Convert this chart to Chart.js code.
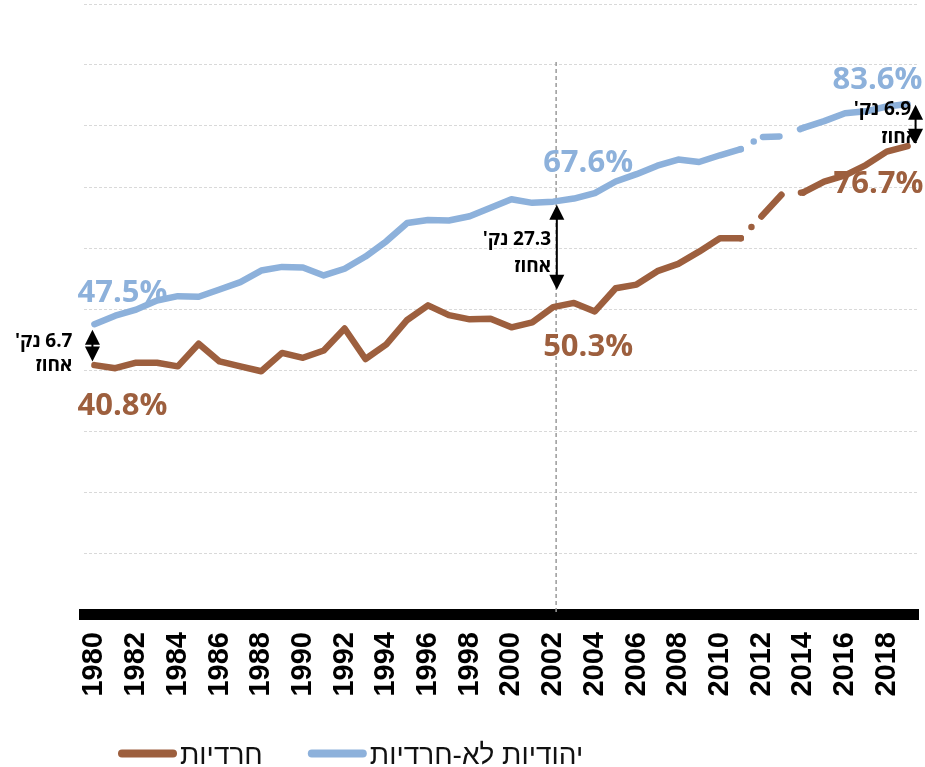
<!DOCTYPE html>
<html>
<head>
<meta charset="utf-8">
<script src="https://cdn.jsdelivr.net/npm/chart.js@4.4.1/dist/chart.umd.min.js"></script>
<style>
  html, body { margin: 0; padding: 0; background: #fff; }
  #wrap { width: 925px; height: 767px; position: relative; }
</style>
</head>
<body>
<div id="wrap"><canvas id="chart"></canvas></div>
<script>
// data (share of women employed, %)
const years = ['1980','1981','1982','1983','1984','1985','1986','1987','1988','1989',
               '1990','1991','1992','1993','1994','1995','1996','1997','1998','1999',
               '2000','2001','2002','2003','2004','2005','2006','2007','2008','2009',
               '2010','2011','2012','2013','2014','2015','2016','2017','2018','2019']
const haredi = [40.8, 40.3, 41.2, 41.2, 40.6, 44.3, 41.4, 40.6, 39.8, 42.8,
                42.0, 43.2, 46.8, 41.8, 44.2, 48.2, 50.6, 49.0, 48.3, 48.4,
                47.0, 47.8, 50.3, 51.0, 49.6, 53.4, 54.0, 56.2, 57.4, 59.4,
                61.6, 61.6, 65.2, 68.9, 69.1, 70.9, 71.9, 73.6, 75.8, 76.7]
const nonHaredi = [47.5, 48.9, 49.9, 51.4, 52.1, 52.0, 53.2, 54.4, 56.3, 56.9,
                   56.8, 55.5, 56.6, 58.6, 61.1, 64.1, 64.6, 64.5, 65.2, 66.6,
                   68.0, 67.4, 67.6, 68.1, 69.0, 70.9, 72.1, 73.5, 74.5, 74.1,
                   75.2, 76.2, 78.2, 78.3, 79.7, 80.8, 82.1, 82.4, 83.2, 83.6]
const seriesNames = ['חרדיות', 'יהודיות לא-חרדיות']
const seriesColors = ['#9d5f3e', '#8db1db']
const yTicks = [0, 10, 20, 30, 40, 50, 60, 70, 80, 90, 100]
const brokenFrom = '2011', brokenTo = '2014'
// gap notes as printed on the chart
const noteYears = ['1980', '2002', '2019']
const noteGaps = ['6.7', '27.3', '6.9']

const BOLD = '"Open Sans", "Liberation Sans", sans-serif'
const PLAIN = '"Liberation Sans", "DejaVu Sans", sans-serif'

const i0 = years.indexOf(brokenFrom), i1 = years.indexOf(brokenTo)
function broken(dash){
  return ctx => (ctx.p0DataIndex >= i0 && ctx.p1DataIndex <= i1) ? dash : undefined
}

// big % labels next to the lines
const pctLabels = [
  {year: '1980', s: 1, dx: -17, dy: -22},
  {year: '1980', s: 0, dx: -17, dy: 50},
  {year: '2002', s: 1, dx: -10, dy: -30},
  {year: '2002', s: 0, dx: -10, dy: 49},
  {year: '2019', s: 1, dx: -75, dy: -15},
  {year: '2019', s: 0, dx: -74, dy: 47}
]
// arrow / text offsets for each gap note
const noteLayout = [
  {ax: -2, top: 5.5, bot: 3.7, tx1: -22, tx2: -22, ty1: 22.5, ty2: 47},
  {ax: 3.7, top: 3, bot: 17.5, tx1: -2, tx2: -2, ty1: 43, ty2: 70},
  {ax: 8, top: 0.7, bot: 2.4, tx1: 3.5, tx2: 10.5, ty1: 11, ty2: 38.5}
]

function arrow(ctx, x, yTop, yBot){
  const h = Math.min(15, (yBot - yTop) / 2 - 0.5), w = 7.5
  ctx.lineWidth = 2
  ctx.beginPath(); ctx.moveTo(x, yTop + h - 1); ctx.lineTo(x, yBot - h + 1); ctx.stroke()
  ctx.beginPath(); ctx.moveTo(x, yTop); ctx.lineTo(x - w, yTop + h); ctx.lineTo(x + w, yTop + h); ctx.closePath(); ctx.fill()
  ctx.beginPath(); ctx.moveTo(x, yBot); ctx.lineTo(x - w, yBot - h); ctx.lineTo(x + w, yBot - h); ctx.closePath(); ctx.fill()
}

const overlay = {
  id: 'overlay',
  beforeDatasetsDraw(chart){
    const {ctx, scales: {x, y}} = chart
    const px = x.getPixelForValue(years.indexOf('2002')) + 3
    ctx.save()
    ctx.strokeStyle = '#9a9a9a'
    ctx.lineWidth = 1.5
    ctx.setLineDash([4, 3])
    ctx.beginPath(); ctx.moveTo(px, y.getPixelForValue(90.5)); ctx.lineTo(px, y.getPixelForValue(0)); ctx.stroke()
    ctx.restore()
  },
  afterDraw(chart){
    const {ctx, scales: {x, y}} = chart
    const data = chart.data.datasets
    ctx.save()
    // percentage labels
    ctx.font = 'bold 31px ' + BOLD
    ctx.textAlign = 'left'
    ctx.textBaseline = 'alphabetic'
    pctLabels.forEach(l => {
      const i = years.indexOf(l.year)
      const v = data[l.s].data[i]
      ctx.fillStyle = data[l.s].borderColor
      ctx.fillText(v.toFixed(1) + '%', x.getPixelForValue(i) + l.dx, y.getPixelForValue(v) + l.dy)
    })
    // gap arrows
    ctx.fillStyle = '#000'
    ctx.strokeStyle = '#000'
    ctx.font = 'bold 19px ' + BOLD
    ctx.direction = 'rtl'
    ctx.textAlign = 'right'
    noteYears.forEach((yr, k) => {
      const n = noteLayout[k]
      const i = years.indexOf(yr)
      const px = x.getPixelForValue(i)
      const yb = y.getPixelForValue(nonHaredi[i]), yh = y.getPixelForValue(haredi[i])
      arrow(ctx, px + n.ax, yb + n.top, yh - n.bot)
      ctx.fillText(noteGaps[k] + " נק'", px + n.tx1, yb + n.ty1)
      ctx.fillText('אחוז', px + n.tx2, yb + n.ty2)
    })
    // legend
    ctx.font = '28px ' + PLAIN
    ctx.direction = 'rtl'
    ctx.textAlign = 'left'
    let lx = 118
    const ly = 753.5
    data.forEach(ds => {
      ctx.strokeStyle = ds.borderColor
      ctx.lineWidth = 8
      ctx.lineCap = 'round'
      ctx.beginPath(); ctx.moveTo(lx + 4, ly); ctx.lineTo(lx + 55, ly); ctx.stroke()
      ctx.fillStyle = '#111'
      ctx.fillText(ds.label, lx + 62, 764)
      lx += 62 + ctx.measureText(ds.label).width + 45
    })
    ctx.restore()
  }
}

new Chart(document.getElementById('chart'), {
  type: 'line',
  data: {
    labels: years,
    datasets: [
      {label: seriesNames[0], data: haredi, borderColor: seriesColors[0], backgroundColor: seriesColors[0],
       segment: {borderDash: broken([0, 15.5, 0, 14.5, 29.5, 20, 60])}},
      {label: seriesNames[1], data: nonHaredi, borderColor: seriesColors[1], backgroundColor: seriesColors[1],
       segment: {borderDash: broken([0, 15, 0, 10.5, 16.5, 22, 60])}}
    ]
  },
  options: {
    responsive: true,
    maintainAspectRatio: false,
    animation: false,
    layout: {padding: {left: 84, right: 7, top: 4, bottom: 53}},
    elements: {
      line: {borderWidth: 6.5, borderCapStyle: 'round', borderJoinStyle: 'round', tension: 0},
      point: {radius: 0, hoverRadius: 0}
    },
    plugins: {legend: {display: false}, tooltip: {enabled: false}},
    scales: {
      x: {
        type: 'category',
        offset: true,
        grid: {display: false, drawTicks: false},
        border: {display: true, color: '#000', width: 11},
        ticks: {
          autoSkip: false, minRotation: 90, maxRotation: 90, padding: 18, color: '#000',
          font: {family: PLAIN, size: 29, weight: 'bold'},
          callback: function(v, i){ return i % 2 === 0 ? years[i] : '' }
        },
        afterFit: s => { s.height = 100; s.paddingLeft = 0; s.paddingRight = 0 }
      },
      y: {
        min: 0, max: 100,
        afterBuildTicks: s => { s.ticks = yTicks.map(v => ({value: v})) },
        ticks: {display: false},
        grid: {color: '#d9d9d9', lineWidth: 1, drawTicks: false},
        border: {display: false, dash: [3, 2]},
        afterFit: s => { s.width = 0 }
      }
    }
  },
  plugins: [overlay]
})
</script>
</body>
</html>
